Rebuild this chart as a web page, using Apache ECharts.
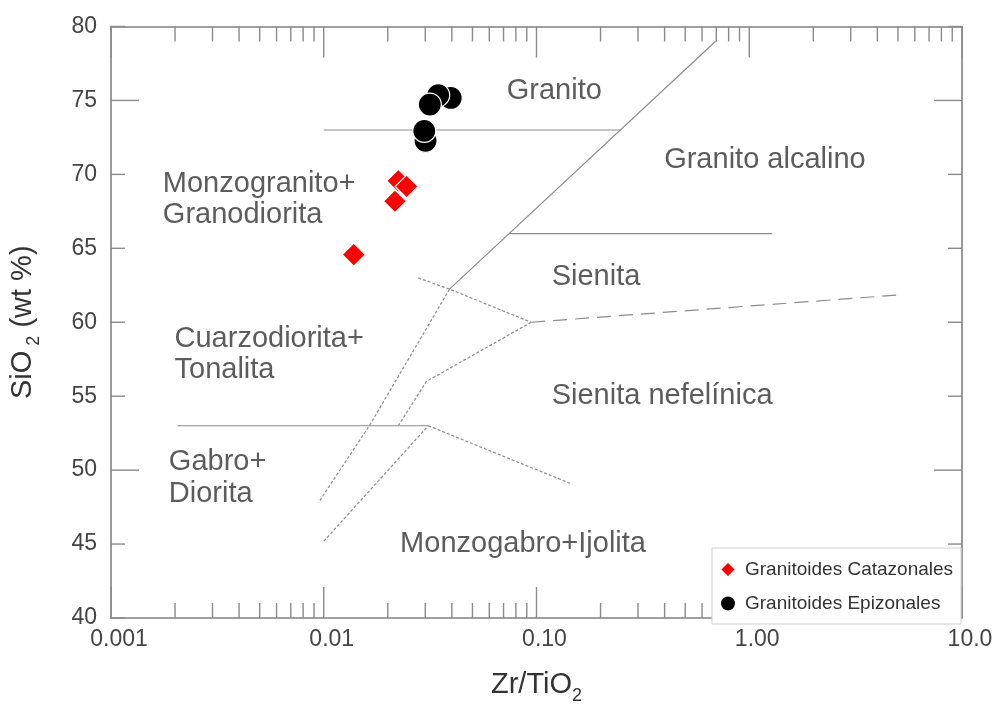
<!DOCTYPE html>
<html>
<head>
<meta charset="utf-8">
<script src="https://cdn.jsdelivr.net/npm/echarts@6/dist/echarts.min.js"></script>
<style>
html,body{margin:0;padding:0;background:#fff;}
#chart{width:996px;height:710px;}
</style>
</head>
<body>
<div id="chart"></div>
<script>
// ---- data ----
const xTickLabels = ['0.001', '0.01', '0.10', '1.00', '10.0'];
const yTickValues = [40, 45, 50, 55, 60, 65, 70, 75, 80];

const catazonalesZr = [0.01384, 0.0224, 0.02161, 0.02452];
const catazonalesSi = [64.57, 69.56, 68.18, 69.18];

const epizonalesZr = [0.03954, 0.03451, 0.03152, 0.03009, 0.02968];
const epizonalesSi = [75.17, 75.35, 74.72, 72.27, 72.94];

// field boundaries [Zr/TiO2, SiO2]
const lineUpperDiagonal = [[0.695, 79.0], [0.039, 62.24]];
const lineLowerDiagonal = [[0.039, 62.24], [0.01644, 53.04], [0.00945, 47.81]];
const line73 = [[0.01, 73.0], [0.248, 73.0]];
const line66 = [[0.0744, 66.0], [1.282, 66.0]];
const lineSienitaShort = [[0.0278, 63.0], [0.039, 62.24], [0.0944, 60.0]];
const lineSienitaLong = [[0.0944, 60.0], [4.94, 61.84]];
const lineNefelinica = [[0.0944, 60.0], [0.0304, 56.0], [0.0224, 53.0]];
const lineMonzogabro = [[0.01, 45.19], [0.031, 53.0]];
const lineMonzogabroDash = [[0.031, 53.0], [0.1454, 49.08]];
const line53 = [[0.00205, 53.0], [0.031, 53.0]];

const regionLabels = [
  [0.0721, 76.06, 'Granito'],
  [0.396, 71.39, 'Granito alcalino'],
  [0.001743, 68.70, 'Monzogranito+\nGranodiorita'],
  [0.1172, 63.44, 'Sienita'],
  [0.001978, 58.23, 'Cuarzodiorita+\nTonalita'],
  [0.1172, 55.43, 'Sienita nefelínica'],
  [0.00186, 49.88, 'Gabro+\nDiorita'],
  [0.02273, 45.41, 'Monzogabro+Ijolita']
];

const seriesNames = ['Granitoides Catazonales', 'Granitoides Epizonales'];

// ---- build ----
const FONT = 'Liberation Sans, Arial, sans-serif';
const XMIN = 0.001, XMAX = 10, YMIN = 40, YMAX = 80;

const xTicks = [];
for (let d = -3; d <= 0; d++) {
  for (let k = 1; k <= 9; k++) {
    xTicks.push([k * Math.pow(10, d), 60, k === 1 ? 1 : 0]);
  }
}
xTicks.push([10, 60, 1]);
const yTicks = yTickValues.map(v => [1, v, (v === 50 || v === 75) ? 1 : 0]);

function zip(a, b) { return a.map((v, i) => [v, b[i]]); }

const boundaryStyle = { color: '#8c8c8c', width: 1.2 };
function boundary(data, type) {
  return {
    type: 'line', data: data, symbol: 'none', silent: true, z: 2,
    lineStyle: Object.assign({}, boundaryStyle, { type: type || 'solid' }),
    animation: false
  };
}

const chart = echarts.init(document.getElementById('chart'), null, { renderer: 'canvas' });

const option = {
  backgroundColor: '#ffffff',
  animation: false,
  textStyle: { fontFamily: FONT },
  grid: { left: 108.5, right: 34, top: 26.5, bottom: 84, containLabel: false },
  legend: {
    data: seriesNames,
    orient: 'vertical',
    left: 712, top: 548,
    padding: [12, 8, 11, 7],
    itemWidth: 16, itemHeight: 16, itemGap: 15,
    backgroundColor: '#ffffff',
    borderColor: '#cfcfcf', borderWidth: 1,
    textStyle: { fontSize: 19, color: '#333', fontFamily: FONT, padding: [0, 0, 0, 4] },
    z: 10
  },
  xAxis: [{
    type: 'log', logBase: 10, min: XMIN, max: XMAX,
    name: '{n|Zr/TiO}{s|2}', nameLocation: 'middle', nameGap: 52,
    nameTextStyle: {
      rich: {
        n: { fontSize: 29, color: '#333', fontFamily: FONT, verticalAlign: 'bottom', padding: [0, 0, 6, 0] },
        s: { fontSize: 18, color: '#333', fontFamily: FONT, verticalAlign: 'bottom' }
      }
    },
    axisLine: { show: true, lineStyle: { color: '#808080', width: 1.6 } },
    axisTick: { show: false },
    splitLine: { show: false },
    axisLabel: {
      fontSize: 23, color: '#444', margin: 10, padding: [0, 0, 0, 16], fontFamily: FONT,
      formatter: v => xTickLabels[Math.round(Math.log10(v)) + 3]
    }
  }, {
    type: 'log', logBase: 10, min: XMIN, max: XMAX, position: 'top',
    axisLine: { show: true, lineStyle: { color: '#808080', width: 1.6 } },
    axisTick: { show: false }, axisLabel: { show: false }, splitLine: { show: false }
  }],
  yAxis: [{
    type: 'value', min: YMIN, max: YMAX, interval: 5,
    name: '{n|SiO}{s| 2}{n| (wt %)}', nameLocation: 'middle', nameGap: 68, nameRotate: 90,
    nameTextStyle: {
      rich: {
        n: { fontSize: 29, color: '#333', fontFamily: FONT, verticalAlign: 'bottom', padding: [0, 0, 6, 0] },
        s: { fontSize: 18, color: '#333', fontFamily: FONT, verticalAlign: 'bottom' }
      }
    },
    axisLine: { show: true, lineStyle: { color: '#808080', width: 1.6 } },
    axisTick: { show: false },
    splitLine: { show: false },
    axisLabel: { fontSize: 23, color: '#444', margin: 14, padding: [0, 0, 10, 0], fontFamily: FONT }
  }, {
    type: 'value', min: YMIN, max: YMAX, interval: 5, position: 'right',
    axisLine: { show: true, lineStyle: { color: '#808080', width: 1.6 } },
    axisTick: { show: false }, axisLabel: { show: false }, splitLine: { show: false }
  }],
  series: [
    {
      type: 'custom', silent: true, z: 1, data: xTicks, encode: { x: 0, y: 1 },
      renderItem: function (params, api) {
        const v = api.value(0);
        const len = api.value(2) ? 31 : 15;
        const b = api.coord([v, YMIN]);
        const t = api.coord([v, YMAX]);
        const st = { stroke: '#8a8a8a', lineWidth: 1.4 };
        return { type: 'group', children: [
          { type: 'line', shape: { x1: b[0], y1: b[1], x2: b[0], y2: b[1] - len }, style: st },
          { type: 'line', shape: { x1: t[0], y1: t[1], x2: t[0], y2: t[1] + len }, style: st }
        ] };
      }
    },
    {
      type: 'custom', silent: true, z: 1, data: yTicks, encode: { x: 0, y: 1 },
      renderItem: function (params, api) {
        const v = api.value(1);
        const len = api.value(2) ? 28 : 14;
        const l = api.coord([XMIN, v]);
        const r = api.coord([XMAX, v]);
        const st = { stroke: '#8a8a8a', lineWidth: 1.4 };
        return { type: 'group', children: [
          { type: 'line', shape: { x1: l[0], y1: l[1], x2: l[0] + len, y2: l[1] }, style: st },
          { type: 'line', shape: { x1: r[0], y1: r[1], x2: r[0] - len, y2: r[1] }, style: st }
        ] };
      }
    },
    boundary(lineUpperDiagonal),
    boundary(lineLowerDiagonal, [3, 2]),
    boundary(line73),
    boundary(line66),
    boundary(lineSienitaShort, [3, 2]),
    boundary(lineSienitaLong, [14, 8]),
    boundary(lineNefelinica, [3, 2]),
    boundary(lineMonzogabro, [3, 2]),
    boundary(lineMonzogabroDash, [3, 2]),
    boundary(line53),
    {
      type: 'scatter', silent: true, z: 3,
      data: regionLabels,
      symbolSize: 1, itemStyle: { color: 'rgba(0,0,0,0)' },
      label: {
        show: true, position: 'right', distance: 0, offset: [0, 6],
        formatter: p => p.data[2],
        fontSize: 29, lineHeight: 31.5, color: '#333', fontFamily: FONT, align: 'left'
      }
    },
    {
      name: seriesNames[0], type: 'scatter', z: 5,
      data: zip(catazonalesZr, catazonalesSi),
      symbol: 'diamond', symbolSize: 23,
      itemStyle: { color: '#ff0000', borderColor: '#ffffff', borderWidth: 1.2, opacity: 1 }
    },
    {
      name: seriesNames[1], type: 'scatter', z: 5,
      data: zip(epizonalesZr, epizonalesSi),
      symbol: 'circle', symbolSize: 23,
      itemStyle: { color: '#000000', borderColor: '#ffffff', borderWidth: 1.2, opacity: 1 }
    }
  ]
};
chart.setOption(option);
</script>
</body>
</html>
